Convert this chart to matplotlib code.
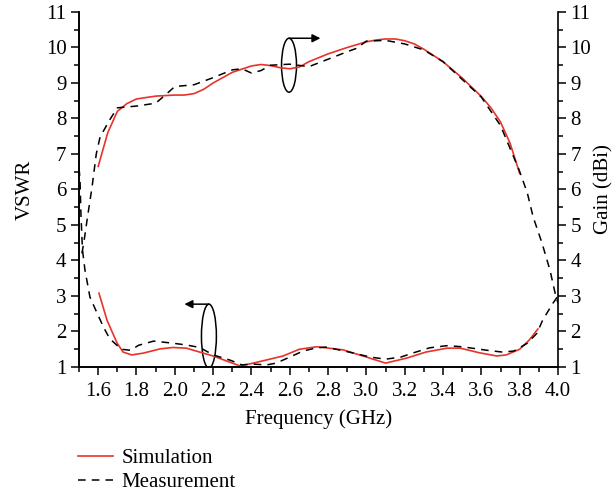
import matplotlib
matplotlib.use("Agg")
import matplotlib.pyplot as plt
from matplotlib.patches import Ellipse
from matplotlib.ticker import MultipleLocator

plt.rcParams['font.family'] = ['Liberation Serif', 'DejaVu Serif']
plt.rcParams['font.size'] = 15

# VSWR, simulation
vswr_sim_f = [1.604, 1.646, 1.698, 1.73, 1.775, 1.835, 1.923, 1.99, 2.06, 2.13, 2.2, 2.27,
              2.34, 2.41, 2.48, 2.565, 2.65, 2.74, 2.76, 2.88, 3.0, 3.1, 3.21, 3.31, 3.42,
              3.49, 3.59, 3.68, 3.73, 3.8, 3.85, 3.895]
vswr_sim_v = [3.08, 2.32, 1.68, 1.42, 1.34, 1.39, 1.51, 1.55, 1.53, 1.42, 1.31, 1.17,
              1.03, 1.11, 1.2, 1.31, 1.5, 1.57, 1.56, 1.48, 1.28, 1.11, 1.25, 1.42, 1.53,
              1.53, 1.4, 1.31, 1.34, 1.5, 1.76, 2.07]

# VSWR, measurement
vswr_meas_f = [1.5, 1.505, 1.51, 1.518, 1.531, 1.557, 1.594, 1.63, 1.66, 1.72, 1.77, 1.81,
               1.89, 1.99, 2.06, 2.13, 2.2, 2.29, 2.35, 2.41, 2.48, 2.53, 2.6, 2.67, 2.74,
               2.79, 2.91, 3.02, 3.1, 3.18, 3.24, 3.33, 3.42, 3.5, 3.63, 3.71, 3.77, 3.84,
               3.89, 3.92, 3.974, 4.0]
vswr_meas_v = [6.6, 6.3, 5.3, 4.3, 3.73, 2.97, 2.52, 2.1, 1.8, 1.5, 1.47, 1.61,
               1.73, 1.67, 1.62, 1.55, 1.34, 1.19, 1.06, 1.08, 1.06, 1.11, 1.28, 1.45, 1.54,
               1.56, 1.42, 1.28, 1.22, 1.28, 1.39, 1.54, 1.6, 1.57, 1.47, 1.42, 1.45, 1.67,
               1.95, 2.32, 2.8, 3.0]

# Gain, simulation
gain_sim_f = [1.6, 1.65, 1.7, 1.75, 1.8, 1.9, 2.0, 2.05, 2.1, 2.15, 2.2, 2.3, 2.4, 2.45, 2.5,
              2.55, 2.6, 2.65, 2.7, 2.8, 2.9, 3.0, 3.05, 3.1, 3.15, 3.2, 3.25, 3.3, 3.4, 3.5,
              3.6, 3.65, 3.7, 3.75, 3.8]
gain_sim_v = [6.65, 7.6, 8.2, 8.42, 8.55, 8.63, 8.66, 8.66, 8.7, 8.82, 9.0, 9.3, 9.48, 9.52,
              9.49, 9.43, 9.4, 9.45, 9.6, 9.82, 10.0, 10.16, 10.21, 10.24, 10.24, 10.19, 10.1,
              9.95, 9.6, 9.14, 8.62, 8.3, 7.9, 7.3, 6.45]

# Gain, measurement
gain_meas_f = [1.515, 1.525, 1.542, 1.568, 1.59, 1.61, 1.66, 1.7, 1.8, 1.9, 1.95, 2.0, 2.1,
               2.2, 2.3, 2.35, 2.4, 2.45, 2.5, 2.6, 2.7, 2.8, 2.9, 2.95, 3.0, 3.1, 3.2,
               3.3, 3.4, 3.5, 3.6, 3.7, 3.797, 3.84, 3.87, 3.916, 3.958, 3.985, 4.0]
gain_meas_v = [4.2, 4.5, 5.14, 6.07, 7.0, 7.48, 7.96, 8.3, 8.35, 8.43, 8.66, 8.9, 8.95,
               9.15, 9.37, 9.4, 9.28, 9.35, 9.5, 9.53, 9.46, 9.67, 9.88, 9.98, 10.18, 10.2, 10.1,
               9.93, 9.6, 9.1, 8.6, 7.8, 6.55, 5.9, 5.23, 4.5, 3.73, 3.08, 2.8]

fig = plt.figure(figsize=(6.14, 4.95), dpi=100)
ax = fig.add_axes([0.1287, 0.2586, 0.7801, 0.7172])
ax2 = ax.twinx()

red = '#e8322a'
ax.plot(vswr_sim_f, vswr_sim_v, color=red, lw=1.2, label='Simulation')
ax.plot(vswr_meas_f, vswr_meas_v, color='black', lw=1.1, ls=(0, (5, 4)), label='Measurement')
ax2.plot(gain_sim_f, gain_sim_v, color=red, lw=1.2)
ax2.plot(gain_meas_f, gain_meas_v, color='black', lw=1.1, ls=(0, (5, 4)))

for a in (ax, ax2):
    a.set_xlim(1.5, 4.0)
    a.set_ylim(1, 11)
    a.yaxis.set_major_locator(MultipleLocator(1))
    a.yaxis.set_minor_locator(MultipleLocator(0.5))
    a.spines['top'].set_visible(False)
    for s in a.spines.values():
        s.set_linewidth(1.2)
    a.tick_params(which='major', length=6, width=1.1, direction='out', labelsize=15, pad=3)
    a.tick_params(which='minor', length=3.5, width=1.1, direction='out')

ax.set_xticks([1.6, 1.8, 2.0, 2.2, 2.4, 2.6, 2.8, 3.0, 3.2, 3.4, 3.6, 3.8, 4.0])
ax.set_xticklabels(['1.6', '1.8', '2.0', '2.2', '2.4', '2.6', '2.8', '3.0', '3.2', '3.4',
                    '3.6', '3.8', '4.0'])
ax.xaxis.set_minor_locator(MultipleLocator(0.1))
ax.tick_params(axis='x', pad=5)
ax.spines['right'].set_visible(False)

ax.set_xlabel('Frequency (GHz)', fontsize=15, labelpad=6)
ax.set_ylabel('VSWR', fontsize=15, labelpad=8)
ax2.set_ylabel('Gain (dBi)', fontsize=15, labelpad=2)

# ellipses and arrows marking which axis each pair belongs to
ax.add_patch(Ellipse((2.596, 9.5), 0.078, 1.52, fill=False, lw=1.1, color='black'))
ax.annotate('', xy=(2.76, 10.26), xytext=(2.596, 10.26),
            arrowprops=dict(arrowstyle='-|>', color='black', lw=1.1, mutation_scale=12,
                            shrinkA=0, shrinkB=0))
ax.add_patch(Ellipse((2.178, 1.87), 0.078, 1.8, fill=False, lw=1.1, color='black'))
ax.annotate('', xy=(2.05, 2.77), xytext=(2.178, 2.77),
            arrowprops=dict(arrowstyle='-|>', color='black', lw=1.1, mutation_scale=12,
                            shrinkA=0, shrinkB=0))

fig.legend(loc='upper left', bbox_to_anchor=(0.127, 0.094), frameon=False, fontsize=15,
           handlelength=1.7, handletextpad=0.4, labelspacing=0.2, borderaxespad=0,
           borderpad=0)

fig.savefig('out.png', dpi=100)
